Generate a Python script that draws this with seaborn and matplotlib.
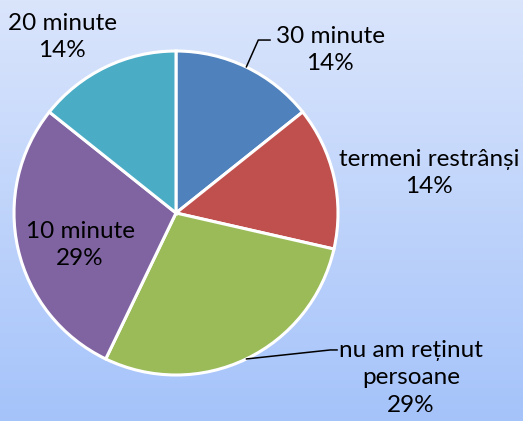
"""
Pie chart: timp / termeni (survey answers)
"""
import numpy as np
import matplotlib
matplotlib.use("Agg")
import matplotlib.pyplot as plt
import seaborn as sns

# data
categories = ["30 minute", "termeni restrânși", "nu am reținut\npersoane", "10 minute", "20 minute"]
counts = [1, 1, 2, 2, 1]
percent_labels = ["14%", "14%", "29%", "29%", "14%"]
colors = ["#4F81BD", "#C0504D", "#9BBB59", "#8064A2", "#4BACC6"]

sns.set_theme(style="white")
plt.rcParams["font.family"] = ["Lato", "DejaVu Sans"]

W, H = 523, 421
fig = plt.figure(figsize=(W / 100, H / 100), dpi=100)
ax = fig.add_axes([0, 0, 1, 1])

cx, cy, r = 176, 208, 162
wedges, _ = ax.pie(counts, colors=colors, startangle=90, counterclock=False,
                   center=(cx, cy), radius=r, frame=True,
                   wedgeprops=dict(edgecolor="white", linewidth=2.2))
for w in wedges:
    w.set_zorder(2)

# pie changes the limits, so set them afterwards
ax.set_aspect("equal")
ax.axis("off")

# gradient background
grad = np.linspace(0, 1, 256)[:, None]
top = np.array([0.855, 0.898, 0.988])
bottom = np.array([0.647, 0.765, 0.980])
img = top[None, None, :] * (1 - grad[..., None]) + bottom[None, None, :] * grad[..., None]
ax.imshow(img, extent=[0, W, 0, H], aspect="auto", zorder=0)
ax.set_xlim(0, W)
ax.set_ylim(0, H)

fs = 17.5
ls = 1.4
txt = dict(ha="center", va="center", fontsize=fs, linespacing=ls, color="black", zorder=4)

def mid_point(w, frac=1.0):
    ang = np.deg2rad((w.theta1 + w.theta2) / 2)
    return cx + frac * r * np.cos(ang), cy + frac * r * np.sin(ang)

# 30 minute: elbow leader
x0, y0 = mid_point(wedges[0])
ax.plot([x0, x0 + 12, x0 + 24], [y0, y0 + 27, y0 + 27], color="black", lw=1.1, zorder=3)
ax.text(330, H - 50, f"{categories[0]}\n{percent_labels[0]}", **txt)

# termeni restrânși
ax.text(429, H - 173, f"{categories[1]}\n{percent_labels[1]}", **txt)

# nu am reținut persoane: leader
x0, y0 = mid_point(wedges[2])
ax.plot([x0, x0 + 84, x0 + 91], [y0, y0 + 9, y0 + 9], color="black", lw=1.1, zorder=3)
ax.text(411, H - 378, f"{categories[2]}\n{percent_labels[2]}", **txt)

# 10 minute, inside
ax.text(80, H - 245, f"{categories[3]}\n{percent_labels[3]}", **txt)

# 20 minute
ax.text(62, H - 37, f"{categories[4]}\n{percent_labels[4]}", **txt)

fig.savefig("out.png", dpi=100)
